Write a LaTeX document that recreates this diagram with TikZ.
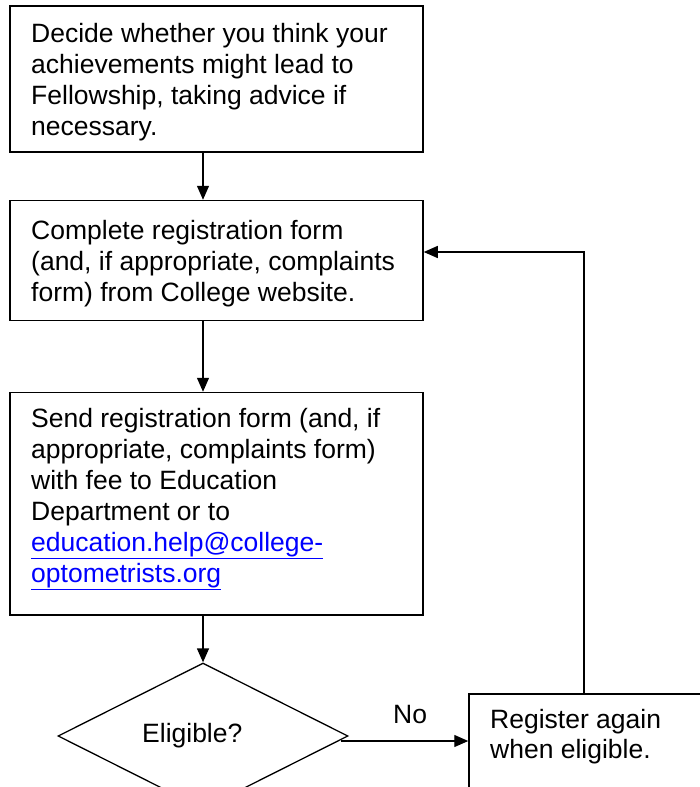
\documentclass[tikz,border=0pt]{standalone}
\usepackage{fontspec}
\setmainfont{Liberation Sans}
\usetikzlibrary{arrows.meta,shapes.geometric}
\begin{document}
\begin{tikzpicture}[x=1pt,y=-1pt,
  box/.style={draw=black, line width=1.5pt, rectangle, inner sep=0pt, fill=white},
  dia/.style={draw=black, line width=1.3pt, diamond, inner sep=0pt, fill=white},
  txt/.style={anchor=base west, inner sep=0pt, font=\fontsize{26.5pt}{31pt}\selectfont},
  arr/.style={draw=black, line width=1.3pt, -{Triangle[length=14pt,width=12pt]}},
  link/.style={color=blue}
  ]
\path[use as bounding box, clip] (0,0) rectangle (700,787);
\fill[white] (0,0) rectangle (700,787);

% boxes
\node[box, minimum width=413pt, minimum height=146pt] (b1) at (216.5,79) {};
\node[box, minimum width=413pt, minimum height=120.2pt] (b2) at (216.5,260.6) {};
\node[box, minimum width=413pt, minimum height=222.5pt] (b3) at (216.5,503.75) {};
\node[box, minimum width=251pt, minimum height=136pt] (b4) at (594.5,762) {};
\node[dia, minimum width=290pt, minimum height=146pt] (d) at (203,736) {};

% texts
\node[txt] (t1) at (31,42.7) {\parbox[t]{390pt}{\raggedright Decide whether you think your\\ achievements might lead to\\ Fellowship, taking advice if\\ necessary.}};
\node[txt] (t2) at (31,239.7) {\parbox[t]{390pt}{\raggedright Complete registration form\\ (and, if appropriate, complaints\\ form) from College website.}};
\node[txt] (t3) at (31,427.3) {\parbox[t]{390pt}{\raggedright Send registration form (and, if\\ appropriate, complaints form)\\ with fee to Education\\ Department or to\\ {\color{blue}\underline{education.help@college-}}\\ {\color{blue}\underline{optometrists.org}}}};
\node[txt] (t4) at (490,728.3) {\parbox[t]{200pt}{\fontsize{26.5pt}{30pt}\selectfont\raggedright Register again\\ when eligible.}};
\node[txt] (el) at (142,742) {Eligible?};
\node[txt] (no) at (393,723.5) {No};

% connectors
\coordinate (col) at (203,0);
\draw[arr] (b1.south -| col) -- (b2.north -| col);
\draw[arr] (b2.south -| col) -- (b3.north -| col);
\draw[arr] (b3.south -| col) -- (d.north);
\coordinate (ns) at (341,741);
\draw[arr] (ns) -- (ns -| b4.west);
\coordinate (fb) at (584,252);
\draw[arr] (b4.north -| fb) -- (fb) -- (fb -| b2.east);
\end{tikzpicture}
\end{document}
